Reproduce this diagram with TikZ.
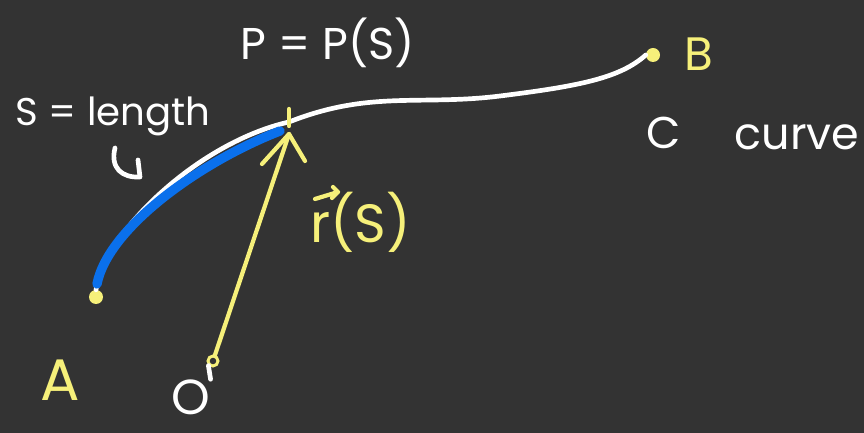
\documentclass[tikz,border=0pt]{standalone}
\usepackage{fontspec}
\setmainfont{Poppins}
\definecolor{bg}{RGB}{51,51,51}
\definecolor{hy}{RGB}{246,240,122}
\definecolor{hb}{RGB}{10,112,236}
\tikzset{
  hw/.style={text=white, inner sep=0pt, font=\fontsize{38}{42}\selectfont},
  hwy/.style={text=hy, inner sep=0pt, font=\fontsize{40}{44}\selectfont},
  dotmark/.style={circle, fill=hy, inner sep=0pt, minimum size=0.42cm},
  ring/.style={circle, draw=hy, line width=2.5pt, inner sep=0pt, minimum size=0.3cm},
  wline/.style={draw=white, line width=4pt, line cap=round, line join=round},
  bline/.style={draw=hb, line width=8pt, line cap=round},
  yline/.style={draw=hy, line width=3.6pt, line cap=round, line join=round},
}
\begin{document}
\begin{tikzpicture}[x=0.03cm, y=-0.03cm]
\fill[bg] (0,0) rectangle (864,433);
\useasboundingbox (0,0) rectangle (864,433);
% points
\node[dotmark] (A) at (96,297) {};
\node[dotmark] (B) at (653,55) {};
\coordinate (P) at (289,122);
\coordinate (Pb) at (280,131);
\node[ring] (O) at (213,361) {};
% white curve
\path[wline] (A.north) .. controls (106,230) and (200,142) .. (P)
  .. controls (370,90) and (420,106) .. (500,96)
  .. controls (580,86) and (620,78) .. (B.west);
% blue arc length
\path[bline] (97,284) .. controls (108,228) and (200,162) .. (Pb);
% tick at P
\coordinate (Pt) at (289,109);
\coordinate (Pd) at (289,126);
\path[yline] (Pt) -- (Pd);
% position vector
\coordinate (tip) at (289,134);
\coordinate (armL) at (262,164);
\coordinate (armR) at (305,161);
\path[yline] (O) -- (tip);
\path[yline] (armL) -- (tip) -- (armR);
% labels
\node[hwy, font=\fontsize{50}{54}\selectfont] (Alab) at (60,380) {A};
\node[hwy] (Blab) at (699,54) {B};
\node[hw, font=\fontsize{42}{46}\selectfont] (Olab) at (191,397) {O};
\path[wline] (O.south west) -- (Olab.north east);
\node[hw] (Plab) at (328,43) {P = P(S)};
\node[hw, font=\fontsize{33}{36}\selectfont] (Slab) at (113,116) {S = length};
\node[hw] (Clab) at (664,133) {C};
\node[hw] (curve) at (797,137) {curve};
\node[hwy, font=\fontsize{46}{50}\selectfont, anchor=west] (rlab) at (310,222) {r(S)};
\coordinate (va) at (315,199);
\coordinate (vb) at (338,192);
\draw[yline] (va) -- (vb) (333,187) -- (vb) -- (332,198);
% hook arrow
\coordinate (h1) at (115,148);
\coordinate (h2) at (140,177);
\coordinate (h3) at (138,160);
\path[wline] (h1) .. controls (110,168) and (122,178) .. (h2) -- (h3);
\end{tikzpicture}
\end{document}
